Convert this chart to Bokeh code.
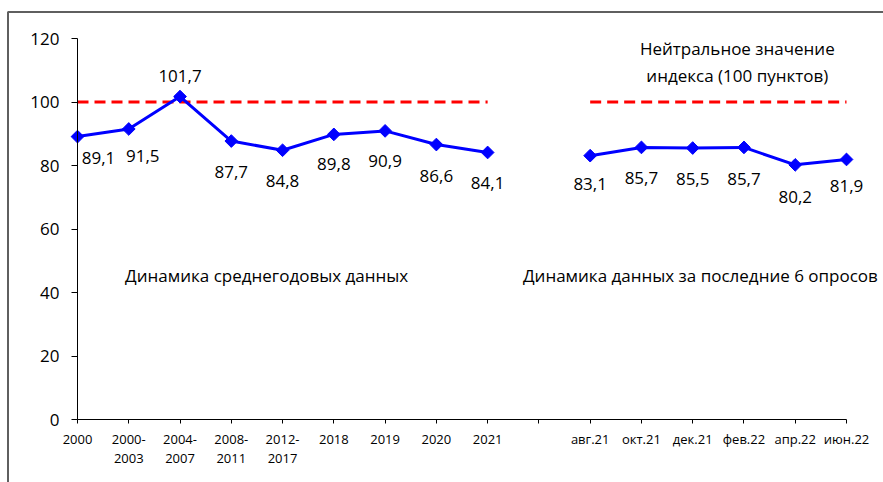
import math
from bokeh.plotting import figure
from bokeh.models import ColumnDataSource, FixedTicker, LabelSet, Label, Range1d
from bokeh.core.properties import value
from bokeh.embed import file_html
from bokeh.resources import INLINE

nan = float("nan")

# ---- data ----
categories = ["2000", "2000-\n2003", "2004-\n2007", "2008-\n2011", "2012-\n2017",
              "2018", "2019", "2020", "2021", "",
              "авг.21", "окт.21", "дек.21", "фев.22", "апр.22", "июн.22"]
index_values = [89.1, 91.5, 101.7, 87.7, 84.8, 89.8, 90.9, 86.6, 84.1, nan,
                83.1, 85.7, 85.5, 85.7, 80.2, 81.9]
neutral_values = [100, 100, 100, 100, 100, 100, 100, 100, 100, nan,
                  100, 100, 100, 100, 100, 100]
y_ticks = [0, 20, 40, 60, 80, 100, 120]

# label placement (screen px offsets, up positive)
label_dx = [21, 14, 0, 0, 0, 0, 0, 0, 0, 0, 0, 0, 0, 0, 0, 0]
label_dy = [-21, -27, 21, -31, -31, -30, -30, -31, -31, 0, -28, -31, -31, -32, -32, -27]

FONT = "Open Sans"
W, H = 883, 482
# screen geometry of the axes inside the canvas
X0_PX, X15_PX = 77, 846      # canvas x of category 0 and category 15
Y0_PX, Y120_PX = 419, 38     # canvas y of value 0 and value 120
ux = (X15_PX - X0_PX) / 15.0
uy = (Y0_PX - Y120_PX) / 120.0
x_start = -X0_PX / ux
x_end = 15 + (W - X15_PX) / ux
y_end = 120 + Y120_PX / uy
y_start = -(H - Y0_PX) / uy

xs = list(range(len(categories)))

p = figure(width=W, height=H, output_backend="svg", toolbar_location=None,
           x_range=Range1d(x_start, x_end), y_range=Range1d(y_start, y_end),
           min_border_left=0, min_border_right=0, min_border_top=0,
           min_border_bottom=0)
p.outline_line_color = None
p.grid.visible = False
p.background_fill_color = "white"
p.border_fill_color = "white"

# chart border (left and top edges)
bx = x_start + 7.5 / ux
by = y_end - 11.5 / uy
p.line([bx, bx, x_end], [y_start, by, by], line_color="#5f5f5f", line_width=2)

# neutral line
p.line(xs, neutral_values, line_color="#FF0000", line_width=3, line_dash="11 6")

# series
src = ColumnDataSource(dict(x=xs, y=index_values))
p.line("x", "y", source=src, line_color="#0000FF", line_width=3)
p.scatter("x", "y", source=src, marker="square", angle=math.pi / 4, size=9,
          fill_color="#0000FF", line_color="#0000FF")

# data labels
lx, ly, lt, ldx, ldy = [], [], [], [], []
for i, v in enumerate(index_values):
    if v == v:
        lx.append(i); ly.append(v)
        lt.append(f"{v:.1f}".replace(".", ","))
        ldx.append(label_dx[i]); ldy.append(label_dy[i])
lsrc = ColumnDataSource(dict(x=lx, y=ly, t=lt, dx=ldx, dy=ldy))
p.add_layout(LabelSet(x="x", y="y", text="t", source=lsrc, x_offset="dx", y_offset="dy",
                      text_align="center", text_baseline="middle",
                      text_font=value(FONT), text_font_size="17px", text_color="black"))

# annotations
for (tx, ty, txt) in [(12.87, 116.9, "Нейтральное значение"),
                      (12.87, 108.3, "индекса (100 пунктов)"),
                      (3.69, 45.4, "Динамика среднегодовых данных"),
                      (12.15, 45.4, "Динамика данных за последние 6 опросов")]:
    p.add_layout(Label(x=tx, y=ty, text=txt, text_align="center", text_baseline="middle",
                       text_font=FONT, text_font_size="17px", text_color="black"))

# axes
xa = p.xaxis[0]
xa.ticker = FixedTicker(ticks=xs)
xa.major_label_overrides = {i: c for i, c in enumerate(categories)}
xa.fixed_location = 0
xa.bounds = (0, 15)
xa.axis_line_color = "black"
xa.major_tick_line_color = "black"
xa.major_tick_in = 0
xa.major_tick_out = 4
xa.minor_tick_line_color = None
xa.major_label_text_font = FONT
xa.major_label_text_font_size = "13px"
xa.major_label_text_line_height = 1.08
xa.major_label_standoff = 6
xa.major_label_text_color = "black"

ya = p.yaxis[0]
ya.ticker = FixedTicker(ticks=y_ticks)
ya.fixed_location = 0
ya.bounds = (0, 120)
ya.axis_line_color = "black"
ya.major_tick_line_color = "black"
ya.major_tick_in = 0
ya.major_tick_out = 6
ya.minor_tick_line_color = None
ya.major_label_text_font = FONT
ya.major_label_text_font_size = "17px"
ya.major_label_standoff = 12
ya.major_label_text_color = "black"

open("out.html", "w").write(file_html(p, INLINE))
